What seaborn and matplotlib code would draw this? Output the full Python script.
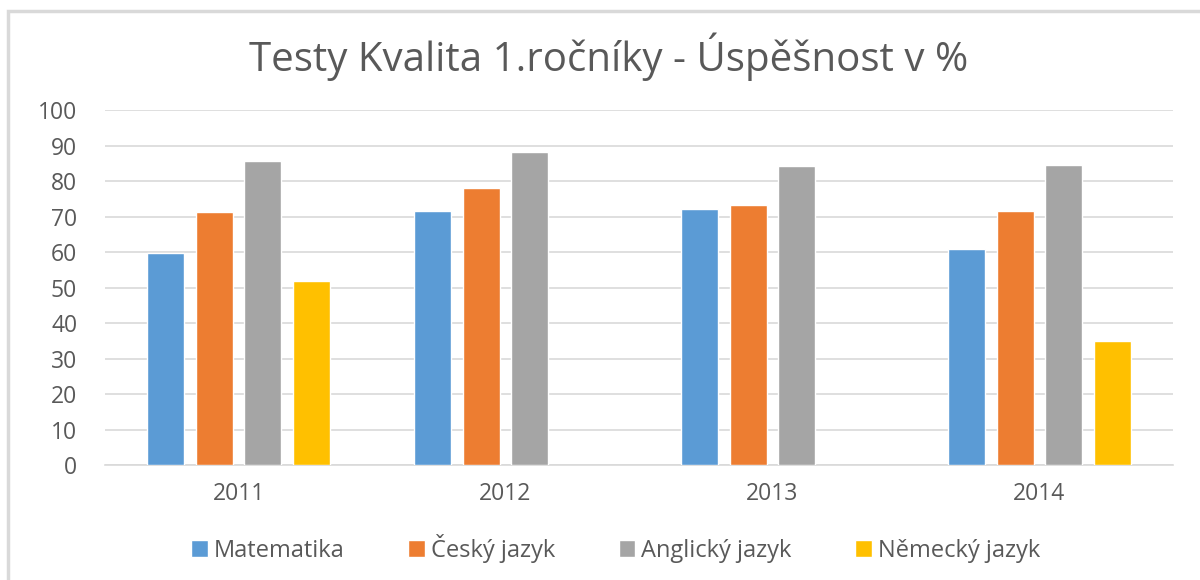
import pandas as pd
import numpy as np
import matplotlib
matplotlib.use("Agg")
import matplotlib.pyplot as plt
import seaborn as sns
from matplotlib.patches import Rectangle

years = ["2011", "2012", "2013", "2014"]
subjects = ["Matematika", "Český jazyk", "Anglický jazyk", "Německý jazyk"]
matematika = [59.8, 71.7, 72.3, 60.8]
cesky = [71.3, 78.0, 73.4, 71.7]
anglicky = [85.8, 88.3, 84.3, 84.6]
nemecky = [52.0, np.nan, np.nan, 35.1]
colors = ["#5B9BD5", "#ED7D31", "#A5A5A5", "#FFC000"]

df = pd.DataFrame({"Rok": years, "Matematika": matematika, "Český jazyk": cesky,
                   "Anglický jazyk": anglicky, "Německý jazyk": nemecky})
long = df.melt(id_vars="Rok", var_name="Předmět", value_name="Úspěšnost").dropna()

sns.set_style("white")
plt.rcParams["font.family"] = ["Open Sans", "DejaVu Sans"]

fig = plt.figure(figsize=(12, 5.8), dpi=100)
ax = fig.add_axes([0.0875, 0.198, 0.89, 0.612])

sns.barplot(data=long, x="Rok", y="Úspěšnost", hue="Předmět", order=years,
            hue_order=subjects, palette=colors, width=0.727, gap=0.24,
            ax=ax, zorder=3, saturation=1, legend=True)

ax.set_ylim(0, 100)
ax.set_xlim(-0.5, 3.5)
ax.set_yticks(range(0, 101, 10))
ax.yaxis.grid(True, color="#D9D9D9", linewidth=1.2, zorder=0)
ax.set_axisbelow(True)
for s in ["top", "right", "left"]:
    ax.spines[s].set_visible(False)
ax.spines["bottom"].set_color("#D9D9D9")
ax.spines["bottom"].set_linewidth(1.2)
ax.tick_params(axis="both", length=0, labelsize=16.5, labelcolor="#595959")
ax.tick_params(axis="x", pad=12)
ax.tick_params(axis="y", pad=20)
ax.set_xlabel("")
ax.set_ylabel("")

ax.legend(loc="center", bbox_to_anchor=(0.478, -0.234), ncol=4, frameon=False,
          fontsize=17, labelcolor="#595959", handlelength=0.7, handleheight=0.7,
          handletextpad=0.25, columnspacing=2.7)

fig.text(0.507, 0.902, "Testy Kvalita 1.ročníky - Úspěšnost v %", ha="center",
         va="center", fontsize=29, color="#595959")

fig.patches.append(Rectangle((8 / 1200, -0.1), 1.2, (580 - 11) / 580 + 0.1,
                             transform=fig.transFigure, fill=False,
                             edgecolor="#D9D9D9", linewidth=2.5))

fig.savefig("out.png", dpi=100)
